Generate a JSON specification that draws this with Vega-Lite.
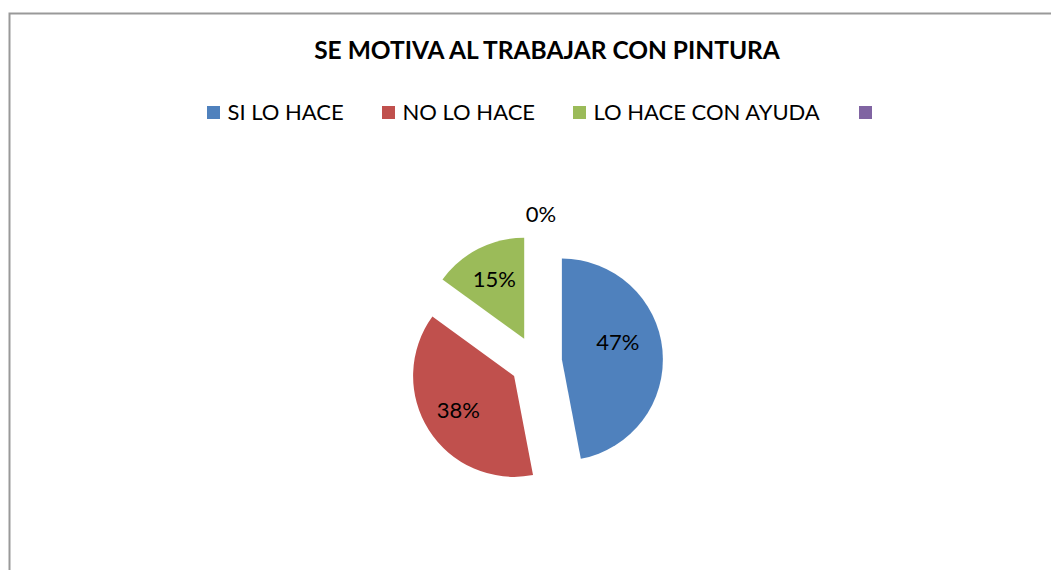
{
  "$schema": "https://vega.github.io/schema/vega-lite/v6.json",
  "width": 1053,
  "height": 697,
  "autosize": {"type": "none"},
  "padding": {"left": 9.5, "top": 13.5, "right": -11.5, "bottom": -140.5},
  "background": "white",
  "view": {"stroke": "#999999", "strokeWidth": 2},
  "config": {
    "view": {"stroke": "#999999", "strokeWidth": 2},
    "font": "Lato"
  },
  "title": {
    "text": "SE MOTIVA AL TRABAJAR CON PINTURA",
    "font": "Lato",
    "fontSize": 24.5,
    "fontWeight": "bold",
    "color": "#000000",
    "anchor": "middle",
    "frame": "group",
    "offset": -51,
    "dx": 11
  },
  "data": {
    "values": [
      {"cat": "SI LO HACE", "value": 47, "label": "47%", "order": 1},
      {"cat": "NO LO HACE", "value": 38, "label": "38%", "order": 2},
      {"cat": "LO HACE CON AYUDA", "value": 15, "label": "15%", "order": 3},
      {"cat": " ", "value": 0, "label": "0%", "order": 4}
    ]
  },
  "transform": [
    {"stack": "value", "groupby": [], "sort": [{"field": "order", "order": "ascending"}], "as": ["v0", "v1"]}
  ],
  "layer": [
    {
      "transform": [{"filter": "datum.cat === 'SI LO HACE'"}],
      "mark": {"type": "arc", "radius": 101, "xOffset": 25.9, "yOffset": -2.4},
      "encoding": {
        "theta": {"field": "v0", "type": "quantitative", "scale": {"domain": [0, 100]}},
        "theta2": {"field": "v1"},
        "color": {
          "field": "cat", "type": "nominal",
          "scale": {"domain": ["SI LO HACE", "NO LO HACE", "LO HACE CON AYUDA", " "], "range": ["#4F81BD", "#C0504D", "#9BBB59", "#8064A2"]},
          "sort": null,
          "legend": {
            "orient": "none", "legendX": 193, "legendY": 88, "direction": "horizontal",
            "title": null, "symbolType": "square", "symbolSize": 169, "symbolStrokeWidth": 0,
            "labelFontSize": 22, "labelFont": "Lato", "labelColor": "#000000", "labelLimit": 0,
            "labelExpr": "datum.label === ' ' ? '' : datum.label",
            "columnPadding": 33, "labelOffset": 3
          }
        }
      }
    },
    {
      "transform": [{"filter": "datum.cat === 'NO LO HACE'"}],
      "mark": {"type": "arc", "radius": 101, "xOffset": -21.9, "yOffset": 13.9},
      "encoding": {
        "theta": {"field": "v0", "type": "quantitative", "scale": {"domain": [0, 100]}},
        "theta2": {"field": "v1"},
        "color": {"field": "cat", "type": "nominal", "sort": null}
      }
    },
    {
      "transform": [{"filter": "datum.cat === 'LO HACE CON AYUDA'"}],
      "mark": {"type": "arc", "radius": 101, "xOffset": -11.8, "yOffset": -23.2},
      "encoding": {
        "theta": {"field": "v0", "type": "quantitative", "scale": {"domain": [0, 100]}},
        "theta2": {"field": "v1"},
        "color": {"field": "cat", "type": "nominal", "sort": null}
      }
    },
    {
      "mark": {"type": "text", "radius": 66, "xOffset": 16.2, "yOffset": -13.2, "fontSize": 22, "font": "Lato", "color": "#000000", "align": "center", "baseline": "middle"},
      "encoding": {
        "theta": {"field": "value", "type": "quantitative", "stack": true, "scale": {"domain": [0, 100]}},
        "order": {"field": "order", "type": "quantitative"},
        "text": {"condition": {"test": "datum.cat === 'SI LO HACE'", "field": "label", "type": "nominal"}, "value": ""}
      }
    },
    {
      "mark": {"type": "text", "radius": 66, "xOffset": -21.9, "yOffset": 13.9, "fontSize": 22, "font": "Lato", "color": "#000000", "align": "center", "baseline": "middle"},
      "encoding": {
        "theta": {"field": "value", "type": "quantitative", "stack": true, "scale": {"domain": [0, 100]}},
        "order": {"field": "order", "type": "quantitative"},
        "text": {"condition": {"test": "datum.cat === 'NO LO HACE'", "field": "label", "type": "nominal"}, "value": ""}
      }
    },
    {
      "mark": {"type": "text", "radius": 66, "xOffset": -11.8, "yOffset": -23.2, "fontSize": 22, "font": "Lato", "color": "#000000", "align": "center", "baseline": "middle"},
      "encoding": {
        "theta": {"field": "value", "type": "quantitative", "stack": true, "scale": {"domain": [0, 100]}},
        "order": {"field": "order", "type": "quantitative"},
        "text": {"condition": {"test": "datum.cat === 'LO HACE CON AYUDA'", "field": "label", "type": "nominal"}, "value": ""}
      }
    },
    {
      "mark": {"type": "text", "radius": 147, "xOffset": 5, "yOffset": 0, "fontSize": 22, "font": "Lato", "color": "#000000", "align": "center", "baseline": "middle"},
      "encoding": {
        "theta": {"field": "value", "type": "quantitative", "stack": true, "scale": {"domain": [0, 100]}},
        "order": {"field": "order", "type": "quantitative"},
        "text": {"condition": {"test": "datum.cat === ' '", "field": "label", "type": "nominal"}, "value": ""}
      }
    }
  ]
}
